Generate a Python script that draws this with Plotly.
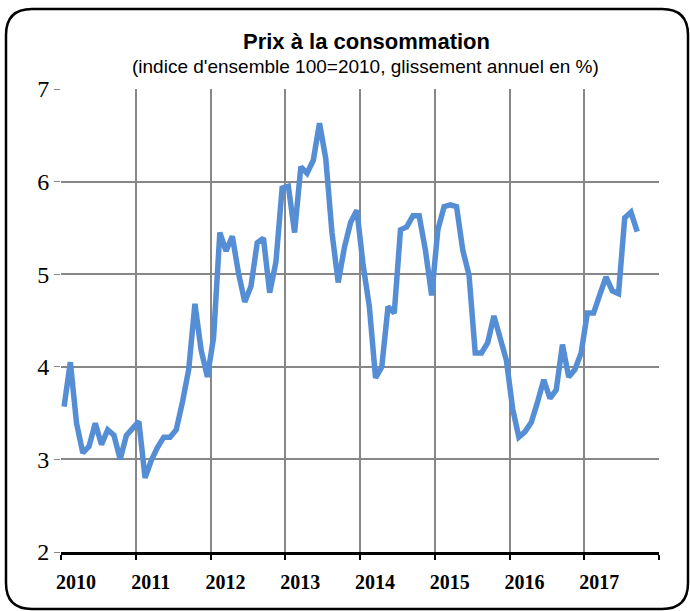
import plotly.graph_objects as go

# Glissement annuel de l'indice des prix à la consommation (%), janv. 2010 - sept. 2017
years = ["2010", "2011", "2012", "2013", "2014", "2015", "2016", "2017"]
inflation = [
    # 2010
    3.57, 4.05, 3.39, 3.07, 3.14, 3.39, 3.16, 3.32, 3.26, 3.00, 3.26, 3.34,
    # 2011
    3.41, 2.80, 2.99, 3.13, 3.24, 3.24, 3.32, 3.62, 3.97, 4.68, 4.18, 3.89,
    # 2012
    4.32, 5.45, 5.25, 5.41, 5.01, 4.70, 4.87, 5.34, 5.39, 4.80, 5.13, 5.93,
    # 2013
    5.95, 5.45, 6.16, 6.09, 6.23, 6.63, 6.25, 5.45, 4.91, 5.29, 5.56, 5.69,
    # 2014
    5.10, 4.65, 3.88, 4.00, 4.65, 4.58, 5.48, 5.51, 5.63, 5.63, 5.26, 4.77,
    # 2015
    5.48, 5.73, 5.75, 5.73, 5.26, 4.99, 4.15, 4.15, 4.26, 4.55, 4.29, 4.07,
    # 2016
    3.55, 3.24, 3.30, 3.40, 3.62, 3.86, 3.66, 3.75, 4.24, 3.89, 3.97, 4.15,
    # 2017
    4.58, 4.58, 4.78, 4.97, 4.82, 4.79, 5.61, 5.67, 5.46,
]
y_ticks = [2, 3, 4, 5, 6, 7]

# monthly points placed at the middle of each month on a month-count axis
months = [i + 0.5 for i in range(len(inflation))]
year_starts = [12 * k for k in range(len(years) + 1)]

W, H = 690, 611
L, R, T, B = 61, 31, 89, 59
pw, ph = W - L - R, H - T - B


def px(x):
    return (x - L) / pw


def py(y):
    return (H - B - y) / ph


fig = go.Figure()
fig.add_trace(go.Scatter(
    x=months, y=inflation, mode="lines",
    line=dict(color="#558ED5", width=5.5),
    hoverinfo="skip", showlegend=False,
))

grid = "#878787"
fig.update_xaxes(
    range=[0, 96], tickvals=year_starts,
    ticktext=[f"<b>{y}</b>" for y in years] + [""],
    ticklabelshift=15, ticklabelstandoff=5,
    tickfont=dict(family="Liberation Serif", size=20, color="black"),
    showgrid=True, gridcolor=grid, gridwidth=2,
    showline=True, linecolor="black", linewidth=3,
    ticks="outside", tickcolor="black", ticklen=5, tickwidth=2,
    zeroline=False, fixedrange=True,
)
fig.update_yaxes(
    range=[2, 7], tickvals=y_ticks,
    tickfont=dict(family="Liberation Serif", size=24, color="black"),
    showgrid=True, gridcolor=grid, gridwidth=2,
    showline=False, ticks="outside", tickcolor=grid, ticklen=6, tickwidth=1,
    zeroline=False, fixedrange=True,
)

# rounded frame around the whole chart
x0, x1, y0, y1, r = px(6), px(688), py(9), py(609), 26
rx, ry = r / pw, r / ph
path = (
    f"M {x0 + rx} {y0} L {x1 - rx} {y0} Q {x1} {y0} {x1} {y0 - ry} "
    f"L {x1} {y1 + ry} Q {x1} {y1} {x1 - rx} {y1} "
    f"L {x0 + rx} {y1} Q {x0} {y1} {x0} {y1 + ry} "
    f"L {x0} {y0 - ry} Q {x0} {y0} {x0 + rx} {y0} Z"
)
fig.add_shape(type="path", path=path, xref="paper", yref="paper",
              line=dict(color="black", width=2.5), layer="above")

fig.add_annotation(
    text="<b>Prix à la consommation</b>", x=px(366), y=py(41),
    xref="paper", yref="paper", showarrow=False,
    xanchor="center", yanchor="middle",
    font=dict(family="Liberation Sans", size=22, color="black"),
)
fig.add_annotation(
    text="(indice d'ensemble 100=2010, glissement annuel en %)",
    x=px(365), y=py(66), xref="paper", yref="paper", showarrow=False,
    xanchor="center", yanchor="middle",
    font=dict(family="Liberation Sans", size=19, color="black"),
)

fig.update_layout(
    width=W, height=H,
    margin=dict(l=L, r=R, t=T, b=B, pad=0),
    paper_bgcolor="white", plot_bgcolor="white",
)

fig.write_html("out.html")
